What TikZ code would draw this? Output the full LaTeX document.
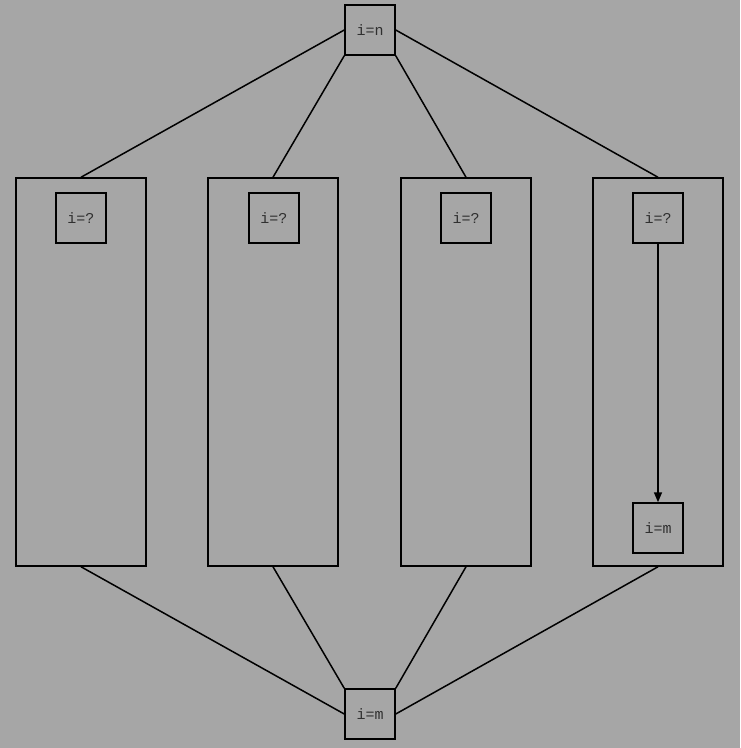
\documentclass[tikz,border=0pt]{standalone}
\usepackage{fontspec}
\setmonofont{Liberation Mono}
\usetikzlibrary{arrows.meta}
\definecolor{bg}{HTML}{A6A6A6}
\definecolor{txt}{HTML}{303030}
\begin{document}
\begin{tikzpicture}[x=1pt,y=-1pt,
  lbl/.style={draw=black,line width=1.5pt,minimum width=50pt,minimum height=50pt,inner sep=0pt,
    font=\ttfamily\fontsize{15}{15}\selectfont,text=txt},
  bigbox/.style={draw=black,line width=1.5pt,minimum width=130pt,minimum height=388pt,inner sep=0pt},
  edge/.style={draw=black,line width=1.5pt}]
\fill[bg] (0,0) rectangle (740,748);
\useasboundingbox (0,0) rectangle (740,748);
\node[lbl] (top) at (370,30) {i=n};
\node[lbl] (bot) at (370,714) {i=m};
\node[bigbox] (b1) at (81,372) {};
\node[bigbox] (b2) at (273,372) {};
\node[bigbox] (b3) at (466,372) {};
\node[bigbox] (b4) at (658,372) {};
\node[lbl] (q1) at (81,218) {i=?};
\node[lbl] (q2) at (274,218) {i=?};
\node[lbl] (q3) at (466,218) {i=?};
\node[lbl] (q4) at (658,218) {i=?};
\node[lbl] (m4) at (658,528) {i=m};
\draw[edge] (top.west) -- (b1.north);
\draw[edge] (top.south west) -- (b2.north);
\draw[edge] (top.south east) -- (b3.north);
\draw[edge] (top.east) -- (b4.north);
\draw[edge] (b1.south) -- (bot.west);
\draw[edge] (b2.south) -- (bot.north west);
\draw[edge] (b3.south) -- (bot.north east);
\draw[edge] (b4.south) -- (bot.east);
\draw[edge,-{Stealth[length=10pt,width=8pt,inset=0pt]}] (q4.south) -- (m4.north);
\end{tikzpicture}
\end{document}
